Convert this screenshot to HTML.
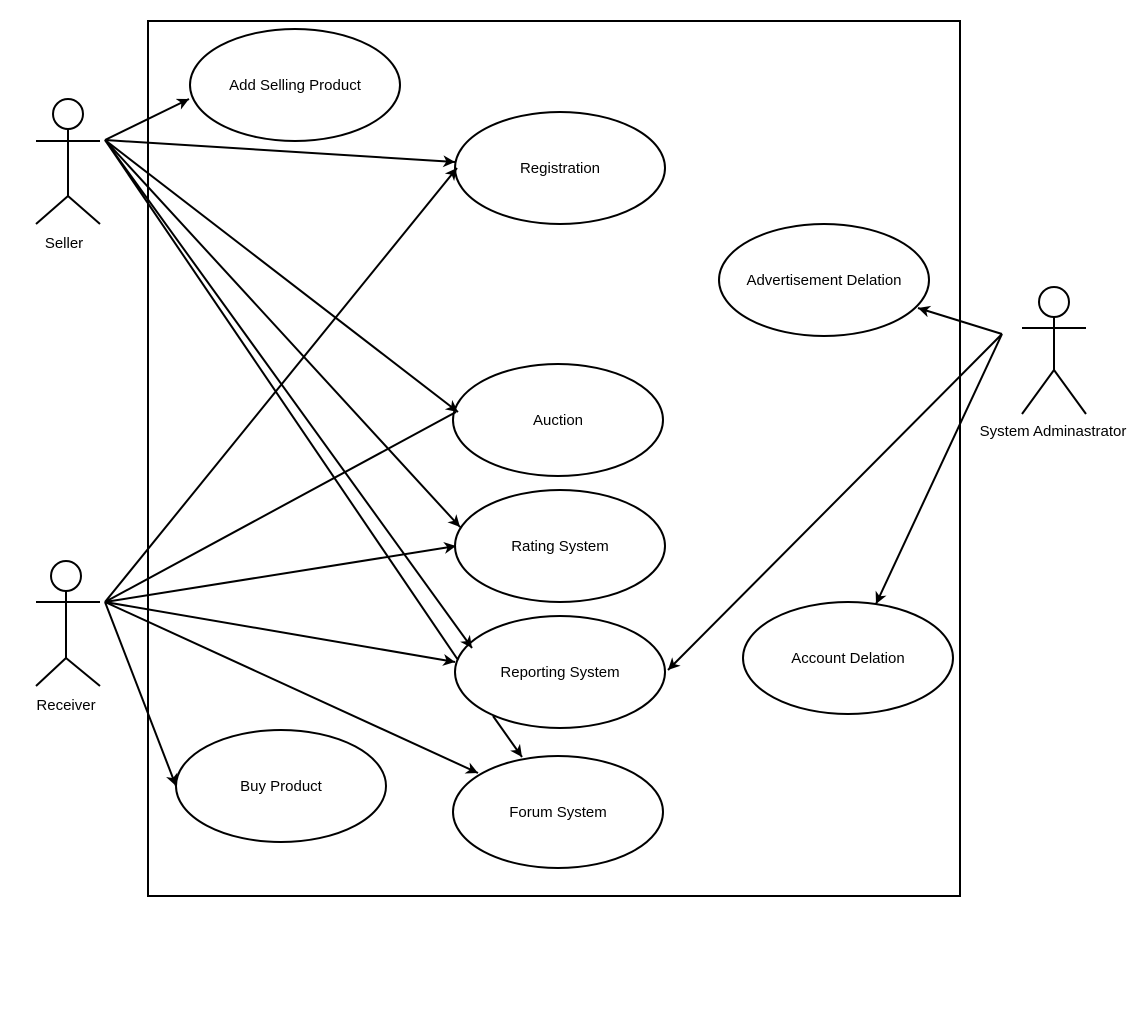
<!DOCTYPE html>
<html><head><meta charset="utf-8"><style>
html,body{margin:0;padding:0;background:#fff;}
svg{display:block;}
text{font-family:"Liberation Sans",Helvetica,Arial,sans-serif;font-size:15px;fill:#000;}
</style></head><body>
<svg width="1138" height="1012" viewBox="0 0 1138 1012" xmlns="http://www.w3.org/2000/svg">
<defs>
<marker id="a" markerWidth="14" markerHeight="14" refX="12" refY="6" orient="auto" markerUnits="userSpaceOnUse">
<path d="M0,0 L12,6 L0,12 L3.5,6 Z" fill="#000"/>
</marker>
</defs>
<rect x="148" y="21" width="812" height="875" fill="none" stroke="#000" stroke-width="2"/>
<g fill="#fff" stroke="#000" stroke-width="2">
<ellipse cx="295" cy="85" rx="105" ry="56"/>
<ellipse cx="560" cy="168" rx="105" ry="56"/>
<ellipse cx="824" cy="280" rx="105" ry="56"/>
<ellipse cx="558" cy="420" rx="105" ry="56"/>
<ellipse cx="560" cy="546" rx="105" ry="56"/>
<ellipse cx="560" cy="672" rx="105" ry="56"/>
<ellipse cx="848" cy="658" rx="105" ry="56"/>
<ellipse cx="281" cy="786" rx="105" ry="56"/>
<ellipse cx="558" cy="812" rx="105" ry="56"/>
</g>
<g text-anchor="middle">
<text x="295" y="90">Add Selling Product</text>
<text x="560" y="173">Registration</text>
<text x="824" y="285">Advertisement Delation</text>
<text x="558" y="425">Auction</text>
<text x="560" y="551">Rating System</text>
<text x="560" y="677">Reporting System</text>
<text x="848" y="663">Account Delation</text>
<text x="281" y="791">Buy Product</text>
<text x="558" y="817">Forum System</text>
<text x="64" y="248">Seller</text>
<text x="66" y="710">Receiver</text>
<text x="1053" y="436">System Adminastrator</text>
</g>
<g fill="none" stroke="#000" stroke-width="2">
<circle cx="68" cy="114" r="15" fill="#fff"/>
<path d="M68,129 V196 M36,141 H100 M68,196 L36,224 M68,196 L100,224"/>
<circle cx="66" cy="576" r="15" fill="#fff"/>
<path d="M66,591 V658 M36,602 H100 M66,658 L36,686 M66,658 L100,686"/>
<circle cx="1054" cy="302" r="15" fill="#fff"/>
<path d="M1054,317 V370 M1022,328 H1086 M1054,370 L1022,414 M1054,370 L1086,414"/>
</g>
<g stroke="#000" stroke-width="2" fill="none">
<line x1="105" y1="140" x2="189" y2="99" marker-end="url(#a)"/>
<line x1="105" y1="140" x2="455" y2="162" marker-end="url(#a)"/>
<line x1="105" y1="140" x2="458" y2="412" marker-end="url(#a)"/>
<line x1="105" y1="140" x2="460" y2="527" marker-end="url(#a)"/>
<line x1="105" y1="140" x2="472" y2="648" marker-end="url(#a)"/>
<line x1="105" y1="140" x2="458" y2="660"/>
<line x1="105" y1="602" x2="457" y2="168" marker-end="url(#a)"/>
<line x1="105" y1="602" x2="456" y2="412"/>
<line x1="105" y1="602" x2="456" y2="546" marker-end="url(#a)"/>
<line x1="105" y1="602" x2="455" y2="662" marker-end="url(#a)"/>
<line x1="105" y1="602" x2="478" y2="773" marker-end="url(#a)"/>
<line x1="105" y1="602" x2="176" y2="786" marker-end="url(#a)"/>
<line x1="493" y1="716" x2="522" y2="757" marker-end="url(#a)"/>
<line x1="1002" y1="334" x2="918" y2="308" marker-end="url(#a)"/>
<line x1="1002" y1="334" x2="668" y2="670" marker-end="url(#a)"/>
<line x1="1002" y1="334" x2="876" y2="604" marker-end="url(#a)"/>
</g>
</svg>
</body></html>
